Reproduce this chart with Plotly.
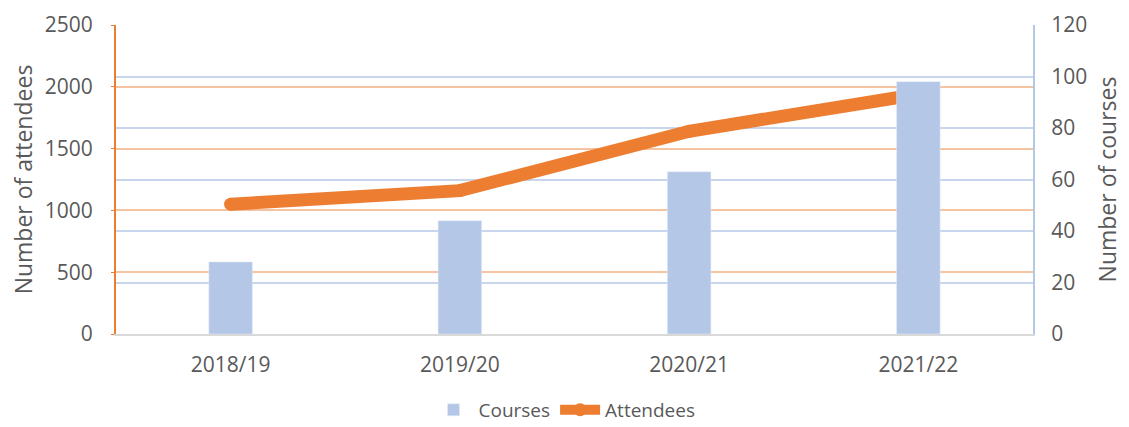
import plotly.graph_objects as go

years = ["2018/19", "2019/20", "2020/21", "2021/22"]
courses = [28, 44, 63, 98]
attendees = [1050, 1160, 1640, 1940]

left_ticks = [0, 500, 1000, 1500, 2000, 2500]
right_ticks = [0, 20, 40, 60, 80, 100, 120]

ORANGE = "#ED7D31"
BLUE = "#B4C7E7"
GREY = "#595959"
FONT = "Open Sans"

fig = go.Figure()
fig.add_trace(go.Bar(x=years, y=courses, name="Courses", marker_color=BLUE,
                     width=0.19, yaxis="y2"))
fig.add_trace(go.Scatter(x=years, y=attendees, name="Attendees", mode="lines+markers",
                         line=dict(color=ORANGE, width=13),
                         marker=dict(color=ORANGE, size=13, line=dict(width=0)),
                         yaxis="y"))

fig.update_layout(
    width=1129, height=427,
    margin=dict(l=116, r=96, t=25, b=93),
    paper_bgcolor="white", plot_bgcolor="white",
    font=dict(family=FONT, size=21, color=GREY),
    xaxis=dict(showgrid=False, showline=True, linecolor="#D9D9D9", linewidth=2,
               ticks="", tickfont=dict(size=21, color=GREY), automargin=False,
               ticklabelstandoff=11),
    yaxis=dict(range=[0, 2500], tickvals=left_ticks, showgrid=True,
               gridcolor="rgba(237,125,49,0.45)", gridwidth=1.5,
               showline=True, linecolor=ORANGE, linewidth=2,
               ticks="outside", ticklen=3, tickcolor=ORANGE,
               ticklabelstandoff=14, automargin=False,
               title=dict(text="Number of attendees", font=dict(size=23, color=GREY), standoff=6),
               tickfont=dict(size=21, color=GREY), zeroline=False),
    yaxis2=dict(range=[0, 120], tickvals=right_ticks, overlaying="y", side="right",
                showgrid=True, gridcolor="rgba(180,199,231,0.75)", gridwidth=1.5,
                showline=True, linecolor=BLUE, linewidth=2, ticks="",
                ticklabelstandoff=12, automargin=False,
                title=dict(text="Number of courses", font=dict(size=23, color=GREY), standoff=14),
                tickfont=dict(size=21, color=GREY), zeroline=False),
    legend=dict(orientation="h", x=0.5, xanchor="center", xref="container",
                y=0.04, yanchor="middle", yref="container",
                font=dict(size=19, color=GREY), traceorder="normal", itemwidth=40),
    showlegend=True,
)

fig.write_html("out.html", config={"displayModeBar": False},
               post_script="document.body.style.margin='0';")
